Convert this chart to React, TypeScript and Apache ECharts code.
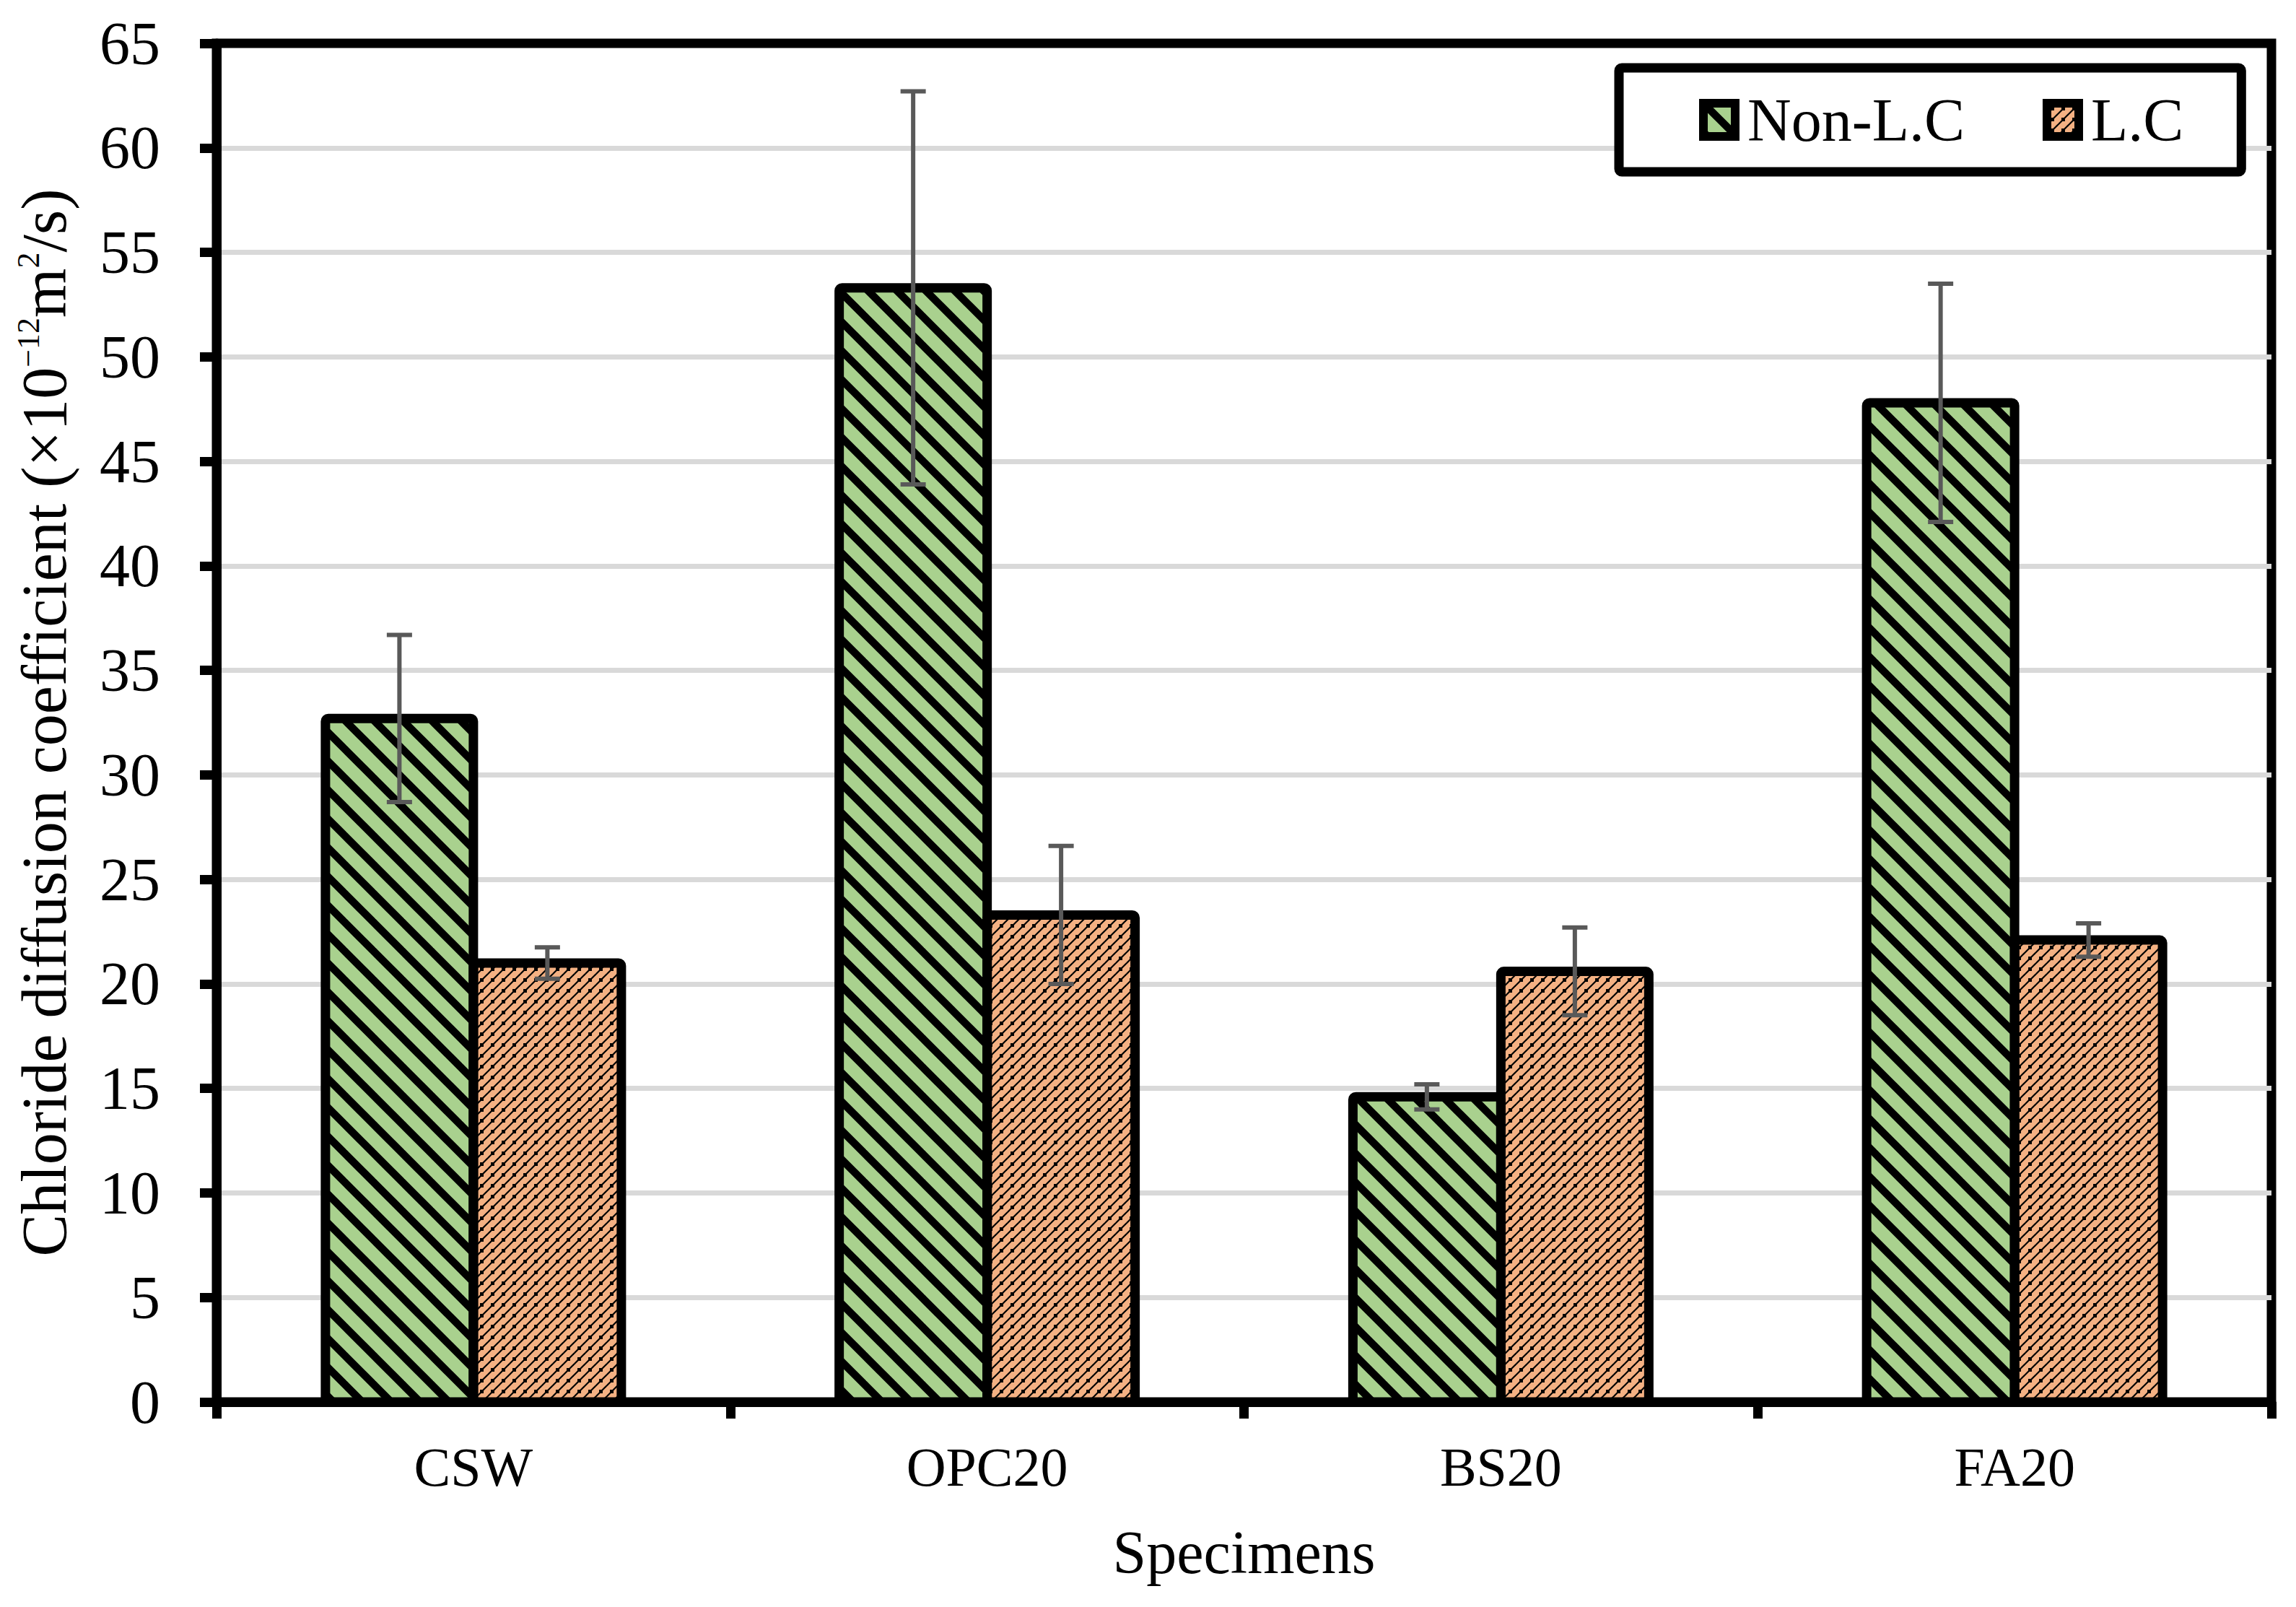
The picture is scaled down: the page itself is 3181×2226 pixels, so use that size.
import React, { useEffect, useRef } from "react";
import * as echarts from "echarts";

const CATEGORIES = ["CSW", "OPC20", "BS20", "FA20"];
const SERIES_NAMES = ["Non-L.C", "L.C"];
const NON_LC = [32.7, 53.3, 14.6, 47.8];
const LC = [21.0, 23.3, 20.6, 22.1];
const NON_LC_ERR = [4.0, 9.4, 0.6, 5.7];
const LC_ERR = [0.75, 3.3, 2.1, 0.8];
const Y_MIN = 0;
const Y_MAX = 65;
const Y_STEP = 5;

const FONT = '"Liberation Serif", "Times New Roman", serif';
const BAR_GAP_FRACTION = 0.424;

function makeStripePattern(): HTMLCanvasElement {
  const T = 40;
  const c = document.createElement("canvas");
  c.width = T;
  c.height = T;
  const ctx = c.getContext("2d")!;
  ctx.fillStyle = "#A9D18E";
  ctx.fillRect(0, 0, T, T);
  ctx.strokeStyle = "#000";
  ctx.lineWidth = 10.5;
  ctx.lineCap = "butt";
  for (let k = -1; k <= 1; k++) {
    ctx.beginPath();
    ctx.moveTo(k * T - 5, -5);
    ctx.lineTo(k * T + T + 5, T + 5);
    ctx.stroke();
  }
  return c;
}

function makeDashPattern(): HTMLCanvasElement {
  const T = 15;
  const c = document.createElement("canvas");
  c.width = T;
  c.height = T;
  const ctx = c.getContext("2d")!;
  ctx.fillStyle = "#F4B183";
  ctx.fillRect(0, 0, T, T);
  ctx.strokeStyle = "#000";
  ctx.lineWidth = 2.2;
  for (let k = -1; k <= 1; k++) {
    ctx.beginPath();
    ctx.moveTo(k * T - 3, T + 3);
    ctx.lineTo(k * T + T + 3, -3);
    ctx.stroke();
  }
  ctx.fillStyle = "#000";
  ctx.fillRect(T / 2 - 2.5, T / 2 - 2.5, 5, 5);
  return c;
}

function barGeom(api: any, i: number, side: number) {
  const band = api.size([1, 0])[0];
  const w = (band * (1 - BAR_GAP_FRACTION)) / 2;
  const c = api.coord([i, 0])[0];
  const left = side < 0 ? c - w : c;
  return { left, w, center: left + w / 2 };
}

function outlineRenderer(side: number) {
  return (params: any, api: any) => {
    const i = api.value(0);
    const v = api.value(1);
    const top = api.coord([i, v])[1];
    const base = api.coord([i, 0])[1];
    const g = barGeom(api, i, side);
    return {
      type: "rect",
      shape: { x: g.left, y: top, width: g.w, height: base - top, r: [4, 4, 0, 0] },
      style: { fill: "none", stroke: "#000", lineWidth: 13 },
    };
  };
}

function errorRenderer(side: number) {
  return (params: any, api: any) => {
    const i = api.value(0);
    const lo = api.value(1);
    const hi = api.value(2);
    const pLo = api.coord([i, lo]);
    const pHi = api.coord([i, hi]);
    const x = barGeom(api, i, side).center;
    const cap = 17.5;
    const style = { stroke: "#595959", lineWidth: 6, fill: "none" };
    return {
      type: "group",
      children: [
        { type: "line", shape: { x1: x, y1: pHi[1], x2: x, y2: pLo[1] }, style },
        { type: "line", shape: { x1: x - cap, y1: pHi[1], x2: x + cap, y2: pHi[1] }, style },
        { type: "line", shape: { x1: x - cap, y1: pLo[1], x2: x + cap, y2: pLo[1] }, style },
      ],
    };
  };
}

export default function App() {
  const ref = useRef<HTMLDivElement>(null);

  useEffect(() => {
    document.body.style.margin = "0";
    if (!ref.current) return;
    const chart = echarts.init(ref.current, undefined, { renderer: "svg" });

    const green = makeStripePattern();
    const orange = makeDashPattern();
    const greenFill: any = { image: green, repeat: "repeat", imageWidth: green.width, imageHeight: green.height };
    const orangeFill: any = { image: orange, repeat: "repeat", imageWidth: orange.width, imageHeight: orange.height };

    const nonErr = CATEGORIES.map((_, i) => [i, NON_LC[i] - NON_LC_ERR[i], NON_LC[i] + NON_LC_ERR[i]]);
    const lcErr = CATEGORIES.map((_, i) => [i, LC[i] - LC_ERR[i], LC[i] + LC_ERR[i]]);
    const nonOutline = CATEGORIES.map((_, i) => [i, NON_LC[i]]);
    const lcOutline = CATEGORIES.map((_, i) => [i, LC[i]]);

    const option: any = {
      animation: false,
      backgroundColor: "#fff",
      textStyle: { fontFamily: FONT, color: "#000" },
      grid: {
        left: 300,
        right: 34,
        top: 60,
        bottom: 284,
        show: true,
        borderColor: "#000",
        borderWidth: 13,
        backgroundColor: "transparent",
      },
      legend: {
        data: SERIES_NAMES,
        left: 2243,
        top: 94,
        orient: "horizontal",
        padding: [30, 80, 30, 111],
        itemWidth: 44,
        itemHeight: 46,
        itemGap: 108,
        icon: "rect",
        borderColor: "#000",
        borderWidth: 13,
        borderRadius: 4,
        backgroundColor: "#fff",
        itemStyle: { borderColor: "#000", borderWidth: 12 },
        textStyle: { fontSize: 84, fontFamily: FONT, color: "#000", padding: [0, 0, 0, 12] },
      },
      xAxis: {
        type: "category",
        data: CATEGORIES,
        boundaryGap: true,
        name: "Specimens",
        nameLocation: "middle",
        nameGap: 166,
        nameTextStyle: { fontSize: 84, fontFamily: FONT, color: "#000", lineHeight: 84 },
        axisLine: { show: true, lineStyle: { color: "#000", width: 13 } },
        axisTick: { show: true, length: 23, lineStyle: { color: "#000", width: 13 } },
        axisLabel: { fontSize: 76, fontFamily: FONT, color: "#000", margin: 52, lineHeight: 76 },
        splitLine: { show: false },
      },
      yAxis: {
        type: "value",
        min: Y_MIN,
        max: Y_MAX,
        interval: Y_STEP,
        name: "{n|Chloride diffusion coefficient (×10}{s|−12}{n|m}{s|2}{n|/s)}",
        nameLocation: "middle",
        nameRotate: 90,
        nameGap: 195,
        nameTextStyle: {
          color: "#000",
          rich: {
            n: { fontSize: 88, fontFamily: FONT, color: "#000", lineHeight: 88 },
            s: { fontSize: 44, fontFamily: FONT, color: "#000", lineHeight: 44, verticalAlign: "top" },
          },
        },
        axisLine: { show: true, lineStyle: { color: "#000", width: 13 } },
        axisTick: { show: true, length: 23, lineStyle: { color: "#000", width: 13 } },
        axisLabel: { fontSize: 84, fontFamily: FONT, color: "#000", margin: 78 },
        splitLine: {
          show: true,
          showMinLine: false,
          showMaxLine: false,
          lineStyle: { color: "#D9D9D9", width: 7 },
        },
      },
      series: [
        {
          name: SERIES_NAMES[0],
          type: "bar",
          data: NON_LC,
          barGap: "0%",
          barCategoryGap: `${BAR_GAP_FRACTION * 100}%`,
          itemStyle: { color: greenFill, borderWidth: 0 },
          z: 2,
        },
        {
          name: SERIES_NAMES[1],
          type: "bar",
          data: LC,
          barGap: "0%",
          barCategoryGap: `${BAR_GAP_FRACTION * 100}%`,
          itemStyle: { color: orangeFill, borderWidth: 0 },
          z: 2,
        },
        {
          name: "Non-L.C outline",
          type: "custom",
          data: nonOutline,
          encode: { x: 0, y: 1 },
          renderItem: outlineRenderer(-1),
          z: 3,
          silent: true,
        },
        {
          name: "L.C outline",
          type: "custom",
          data: lcOutline,
          encode: { x: 0, y: 1 },
          renderItem: outlineRenderer(1),
          z: 3,
          silent: true,
        },
        {
          name: "Non-L.C error",
          type: "custom",
          data: nonErr,
          encode: { x: 0, y: [1, 2] },
          renderItem: errorRenderer(-1),
          z: 5,
          silent: true,
        },
        {
          name: "L.C error",
          type: "custom",
          data: lcErr,
          encode: { x: 0, y: [1, 2] },
          renderItem: errorRenderer(1),
          z: 5,
          silent: true,
        },
      ],
    };

    chart.setOption(option);
    return () => chart.dispose();
  }, []);

  return <div ref={ref} style={{ width: 3181, height: 2226 }} />;
}
